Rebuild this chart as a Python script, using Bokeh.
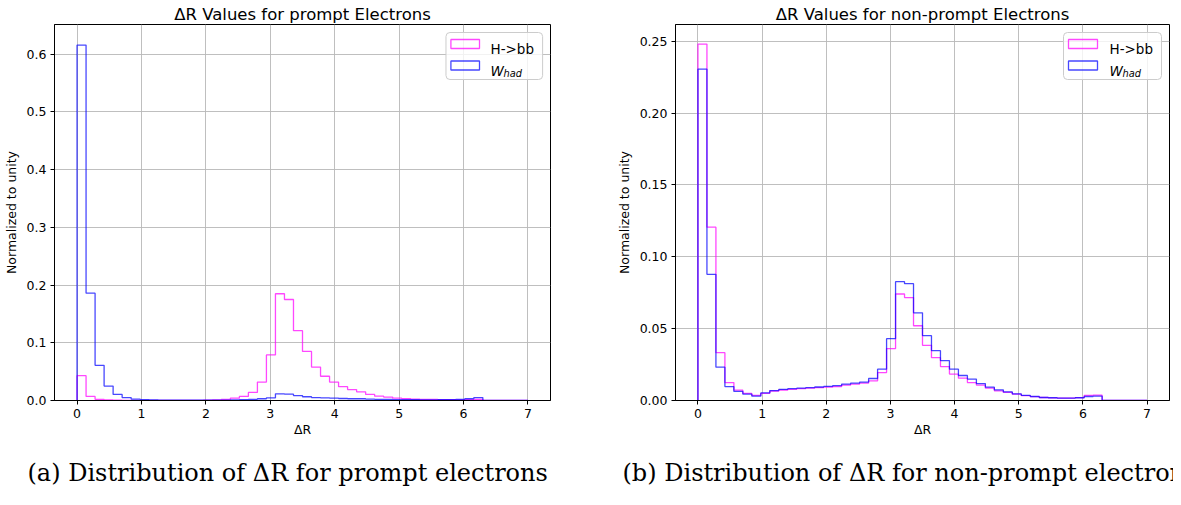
import numpy as np
from bokeh.plotting import figure
from bokeh.models import Range1d, Label, BoxAnnotation, FixedTicker, NumeralTickFormatter, Title
from bokeh.layouts import row, column
from bokeh.core.properties import value
from bokeh.embed import file_html
from bokeh.resources import INLINE

# ---------------- data ----------------
n_bins = 50
dr_min, dr_max = 0.0, 7.0

series_names = ["H->bb", "W_had"]

prompt_hbb = [0.043, 0.007, 0.002, 0.001, 0.0005, 0.0003, 0.0003, 0.0003, 0.0003, 0.0003,
              0.0003, 0.0003, 0.0003, 0.0003, 0.0005, 0.001, 0.002, 0.004, 0.007, 0.014,
              0.032, 0.079, 0.185, 0.175, 0.121, 0.085, 0.058, 0.042, 0.032, 0.024,
              0.019, 0.015, 0.0105, 0.0075, 0.006, 0.004, 0.003, 0.0025, 0.002, 0.0018,
              0.0015, 0.0013, 0.0012, 0.0015, 0.002, 0.0, 0.0, 0.0, 0.0, 0.0]
prompt_whad = [0.616, 0.186, 0.061, 0.025, 0.0105, 0.005, 0.0025, 0.0015, 0.001, 0.0008,
               0.0006, 0.0005, 0.0005, 0.0005, 0.0005, 0.0006, 0.0008, 0.001, 0.0015, 0.002,
               0.003, 0.0046, 0.0116, 0.011, 0.0085, 0.0065, 0.005, 0.0046, 0.004, 0.0035,
               0.003, 0.003, 0.0025, 0.002, 0.0018, 0.0016, 0.0014, 0.0013, 0.0012, 0.0012,
               0.0013, 0.0015, 0.002, 0.003, 0.005, 0.0, 0.0, 0.0, 0.0, 0.0]

nonprompt_hbb = [0.248, 0.1206, 0.0333, 0.0125, 0.0072, 0.0049, 0.0035, 0.005, 0.0066, 0.0073,
                 0.0078, 0.0082, 0.0086, 0.009, 0.0093, 0.0097, 0.0107, 0.0114, 0.0121, 0.0137,
                 0.0194, 0.0361, 0.0741, 0.0716, 0.052, 0.0384, 0.0298, 0.0236, 0.0184, 0.0155,
                 0.0125, 0.0107, 0.0086, 0.0067, 0.0056, 0.0044, 0.0034, 0.0027, 0.0021, 0.0018,
                 0.0016, 0.0016, 0.002, 0.0035, 0.0037, 0.0, 0.0, 0.0, 0.0, 0.0]
nonprompt_whad = [0.2306, 0.0878, 0.0232, 0.0097, 0.0063, 0.0044, 0.003, 0.0053, 0.0069, 0.0077,
                  0.0082, 0.0086, 0.009, 0.0094, 0.0098, 0.0104, 0.0114, 0.0121, 0.0128, 0.0153,
                  0.0218, 0.043, 0.0827, 0.0813, 0.061, 0.0451, 0.0347, 0.0278, 0.0218, 0.0174,
                  0.0149, 0.0118, 0.0093, 0.0074, 0.006, 0.0046, 0.0035, 0.0028, 0.0021, 0.0019,
                  0.0016, 0.0016, 0.0019, 0.0028, 0.003, 0.0, 0.0, 0.0, 0.0, 0.0]

x_ticks = [0, 1, 2, 3, 4, 5, 6, 7]
left_y_ticks = [0.0, 0.1, 0.2, 0.3, 0.4, 0.5, 0.6]
right_y_ticks = [0.0, 0.05, 0.10, 0.15, 0.20, 0.25]

titles = ["\u0394R Values for prompt Electrons", "\u0394R Values for non-prompt Electrons"]
captions = ["(a) Distribution of \u0394R for prompt electrons",
            "(b) Distribution of \u0394R for non-prompt electrons"]

# ---------------- style ----------------
PINK = "#ff00ff"
BLUE = "#0000ff"
ALPHA = 0.72
SANS = "DejaVu Sans"
SERIF = "DejaVu Serif"

edges = np.linspace(dr_min, dr_max, n_bins + 1)


def outline(vals):
    xs = [edges[0]]
    ys = [0.0]
    for i, v in enumerate(vals):
        xs += [edges[i], edges[i + 1]]
        ys += [v, v]
    xs.append(edges[-1])
    ys.append(0.0)
    return xs, ys


def make_panel(hbb, whad, y_end, y_ticks, y_fmt, title,
               width, height, b_left, b_right, frame_w):
    x0, x1 = -0.35, 7.35
    frame_h = 376
    b_top = 24
    p = figure(width=width, height=height, output_backend="svg", toolbar_location=None,
               x_range=Range1d(x0, x1), y_range=Range1d(0, y_end),
               min_border_left=b_left, min_border_right=b_right,
               min_border_top=b_top, min_border_bottom=height - b_top - frame_h)
    p.background_fill_color = "white"
    p.border_fill_color = "white"
    p.outline_line_color = "black"
    p.outline_line_width = 1
    p.outline_line_alpha = 1

    for ax in (p.xaxis[0], p.yaxis[0]):
        ax.axis_line_color = "black"
        ax.major_tick_line_color = "black"
        ax.major_tick_out = 4
        ax.major_tick_in = 0
        ax.minor_tick_line_color = None
        ax.major_label_text_font = SANS
        ax.major_label_text_font_size = "12.5px"
        ax.major_label_text_color = "black"
        ax.major_label_standoff = 4
        ax.axis_label_text_font = SANS
        ax.axis_label_text_font_size = "12.5px"
        ax.axis_label_text_font_style = "normal"
        ax.axis_label_text_color = "black"
    p.xaxis[0].ticker = FixedTicker(ticks=x_ticks)
    p.yaxis[0].ticker = FixedTicker(ticks=y_ticks)
    p.yaxis[0].formatter = NumeralTickFormatter(format=y_fmt)
    p.xaxis[0].axis_label = "\u0394R"
    p.xaxis[0].axis_label_standoff = 1
    p.yaxis[0].axis_label = "Normalized to unity"
    p.yaxis[0].axis_label_standoff = 5

    for g in (p.xgrid[0], p.ygrid[0]):
        g.grid_line_color = "#b8b8b8"
        g.grid_line_width = 1
        g.grid_line_alpha = 0.9
    p.xgrid[0].ticker = FixedTicker(ticks=x_ticks)
    p.ygrid[0].ticker = FixedTicker(ticks=y_ticks)

    xs, ys = outline(hbb)
    p.line(xs, ys, line_color=PINK, line_alpha=ALPHA, line_width=1.3)
    xs, ys = outline(whad)
    p.line(xs, ys, line_color=BLUE, line_alpha=ALPHA, line_width=1.3)

    sx = (x1 - x0) / frame_w
    sy = y_end / frame_h

    # title above the frame
    p.add_layout(Title(text=title, align="center", standoff=1,
                       text_font=SANS, text_font_size="16.5px", text_font_style="normal",
                       text_color="black"), "above")

    # legend
    p.add_layout(BoxAnnotation(left=x1 - 106 * sx, right=x1 - 8 * sx,
                               top=y_end - 8 * sy, bottom=y_end - 55 * sy,
                               fill_color="white", fill_alpha=0.8,
                               line_color="#cccccc", line_alpha=1, line_width=1,
                               border_radius=4))
    for k, col in enumerate([PINK, BLUE]):
        top = 15 + 21.5 * k
        p.add_layout(BoxAnnotation(left=x1 - 101 * sx, right=x1 - 72 * sx,
                                   top=y_end - top * sy, bottom=y_end - (top + 9) * sy,
                                   fill_alpha=0, line_color=col, line_alpha=ALPHA,
                                   line_width=1.3))
    p.add_layout(Label(x=x1, y=y_end, x_offset=-60, y_offset=-24.5, text=series_names[0],
                       text_baseline="alphabetic", text_font=SANS,
                       text_font_size="13.5px", text_color="black"))
    p.add_layout(Label(x=x1, y=y_end, x_offset=-60, y_offset=-46, text="W",
                       text_baseline="alphabetic", text_font=SANS, text_font_style="italic",
                       text_font_size="13.5px", text_color="black"))
    p.add_layout(Label(x=x1, y=y_end, x_offset=-47, y_offset=-49, text="had",
                       text_baseline="alphabetic", text_font=SANS, text_font_style="italic",
                       text_font_size="9.8px", text_color="black"))
    return p


PLOT_H = 450
p1 = make_panel(prompt_hbb, prompt_whad, 0.6516, left_y_ticks, "0.0", titles[0],
                582, PLOT_H, 47, 32, 503)
p2 = make_panel(nonprompt_hbb, nonprompt_whad, 0.2616, right_y_ticks, "0.00", titles[1],
                591, PLOT_H, 93, 4, 494)

# caption strip (pixel coordinates of the strip)
CAP_W, CAP_H = 1173, 39
cap = figure(width=CAP_W, height=CAP_H, output_backend="svg", toolbar_location=None,
             x_range=Range1d(0, CAP_W), y_range=Range1d(0, CAP_H),
             x_axis_location=None, y_axis_location=None,
             min_border=0, min_border_left=0, min_border_right=0,
             min_border_top=0, min_border_bottom=0)
cap.outline_line_color = None
cap.grid.visible = False
cap.background_fill_color = "white"
cap.border_fill_color = "white"
cap.text(x=[27, 622], y=[17, 17], text=captions, text_baseline="alphabetic",
         text_align="left", text_font=value(SERIF), text_font_size="24px",
         text_color="black")

layout = column(row(p1, p2), cap)
open("out.html", "w").write(file_html(layout, INLINE))
